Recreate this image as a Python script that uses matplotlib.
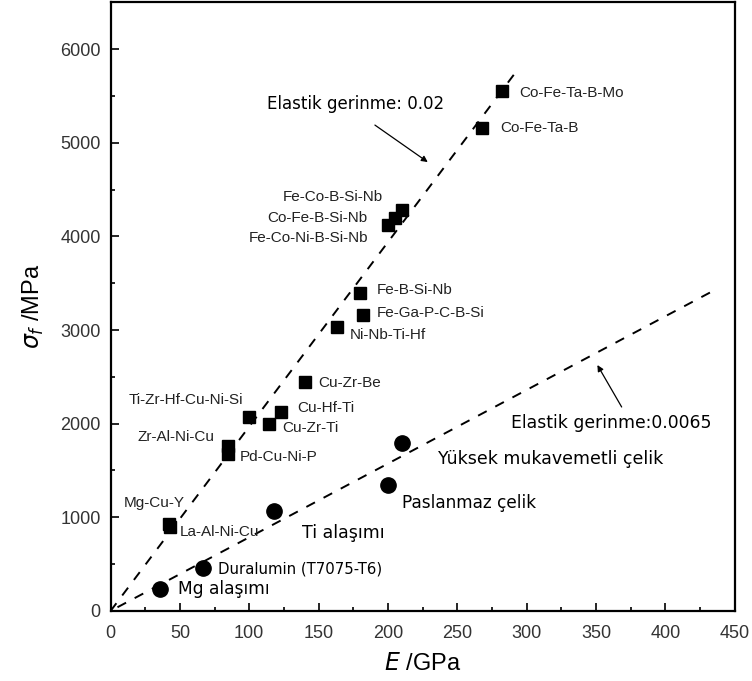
import matplotlib
matplotlib.use("Agg")
import matplotlib.pyplot as plt

# metallic glasses (square markers): E [GPa], sigma_f [MPa]
glass_names = ['Co-Fe-Ta-B-Mo', 'Co-Fe-Ta-B', 'Fe-Co-B-Si-Nb', 'Co-Fe-B-Si-Nb',
               'Fe-Co-Ni-B-Si-Nb', 'Fe-B-Si-Nb', 'Fe-Ga-P-C-B-Si', 'Ni-Nb-Ti-Hf',
               'Cu-Zr-Be', 'Ti-Zr-Hf-Cu-Ni-Si', 'Cu-Hf-Ti', 'Cu-Zr-Ti',
               'Zr-Al-Ni-Cu', 'Pd-Cu-Ni-P', 'Mg-Cu-Y', 'La-Al-Ni-Cu']
glass_E = [282, 268, 210, 205, 200, 180, 182, 163, 140, 100, 123, 114, 85, 85, 42, 43]
glass_sigma = [5550, 5160, 4280, 4195, 4120, 3400, 3160, 3030, 2440, 2070,
               2120, 2000, 1760, 1680, 930, 895]

# crystalline alloys (circle markers)
cryst_names = ['Mg alaşımı', 'Duralumin (T7075-T6)', 'Ti alaşımı',
               'Paslanmaz çelik', 'Yüksek mukavemetli çelik']
cryst_E = [36, 67, 118, 200, 210]
cryst_sigma = [235, 460, 1070, 1350, 1790]

# guide lines
line1_E = [0, 292]
line1_sigma = [0, 5750]
line2_E = [5, 436]
line2_sigma = [40, 3430]

fig = plt.figure(figsize=(7.52, 6.81), dpi=100)
ax = fig.add_axes([0.147, 0.1028, 0.83, 0.894])

ax.plot(line1_E, line1_sigma, color='black', lw=1.4, ls=(0, (5, 5)))
ax.plot(line2_E, line2_sigma, color='black', lw=1.4, ls=(0, (5, 5)))
ax.plot(glass_E, glass_sigma, 's', color='black', ms=8.5, ls='none')
ax.plot(cryst_E, cryst_sigma, 'o', color='black', ms=11, ls='none')

# label positions (data coords) and alignment
sq_lab = {
    'Co-Fe-Ta-B-Mo': (295, 5530, 'left'),
    'Co-Fe-Ta-B': (281, 5156, 'left'),
    'Fe-Co-B-Si-Nb': (196, 4420, 'right'),
    'Co-Fe-B-Si-Nb': (185.5, 4196, 'right'),
    'Fe-Co-Ni-B-Si-Nb': (185.5, 3982, 'right'),
    'Fe-B-Si-Nb': (192, 3427, 'left'),
    'Fe-Ga-P-C-B-Si': (192, 3181, 'left'),
    'Ni-Nb-Ti-Hf': (172.5, 2946, 'left'),
    'Cu-Zr-Be': (149.5, 2434, 'left'),
    'Ti-Zr-Hf-Cu-Ni-Si': (95.5, 2253, 'right'),
    'Cu-Hf-Ti': (134.4, 2167, 'left'),
    'Cu-Zr-Ti': (123.6, 1954, 'left'),
    'Zr-Al-Ni-Cu': (75.3, 1858, 'right'),
    'Pd-Cu-Ni-P': (93.3, 1644, 'left'),
    'Mg-Cu-Y': (53.7, 1153, 'right'),
    'La-Al-Ni-Cu': (50, 843, 'left'),
}
for name in glass_names:
    x, y, ha = sq_lab[name]
    ax.text(x, y, name, ha=ha, va='center', fontsize=11,
            family='Liberation Sans', color='#222222')

ci_lab = {
    'Mg alaşımı': (48.6, 235, 12.3),
    'Duralumin (T7075-T6)': (77.4, 448, 10.7),
    'Ti alaşımı': (138, 833, 12.5),
    'Paslanmaz çelik': (210, 1153, 12.2),
    'Yüksek mukavemetli çelik': (236, 1623, 12.5),
}
for name in cryst_names:
    x, y, fs = ci_lab[name]
    ax.text(x, y, name, ha='left', va='center', fontsize=fs, family='DejaVu Sans')

# strain annotations
arrow = dict(arrowstyle='-|>', color='black', lw=0.9, mutation_scale=9,
             shrinkA=0, shrinkB=0)
ax.annotate('', xy=(228.7, 4793), xytext=(190.6, 5188), arrowprops=arrow)
ax.text(112.8, 5413, 'Elastik gerinme: 0.02', fontsize=12, va='center', ha='left')
ax.annotate('', xy=(351, 2626), xytext=(368.5, 2178), arrowprops=arrow)
ax.text(289, 2007, 'Elastik gerinme:0.0065', fontsize=12.4, va='center', ha='left')

ax.set_xlim(0, 450)
ax.set_ylim(0, 6500)
ax.set_xticks(range(0, 451, 50))
ax.set_xticks(range(25, 451, 50), minor=True)
ax.set_yticks(range(0, 6001, 1000))
ax.set_yticks(range(500, 6501, 1000), minor=True)
ax.tick_params(which='both', direction='in', top=False, right=False,
               labelsize=13, colors='black', width=1.2)
ax.tick_params(which='major', length=6)
ax.tick_params(which='minor', length=3)
ax.tick_params(axis='x', which='major', pad=10)
ax.tick_params(axis='y', which='major', pad=7)
for lab in ax.get_xticklabels() + ax.get_yticklabels():
    lab.set_family('Liberation Sans')
    lab.set_color('#333333')
for sp in ax.spines.values():
    sp.set_linewidth(1.6)

ax.set_xlabel(r'$\it{E}$ /GPa', fontsize=17, family='Liberation Sans', labelpad=8)
ax.set_ylabel(r'$\sigma_f$ /MPa', fontsize=17, family='Liberation Sans', labelpad=10)

fig.savefig('out.png', dpi=100)
